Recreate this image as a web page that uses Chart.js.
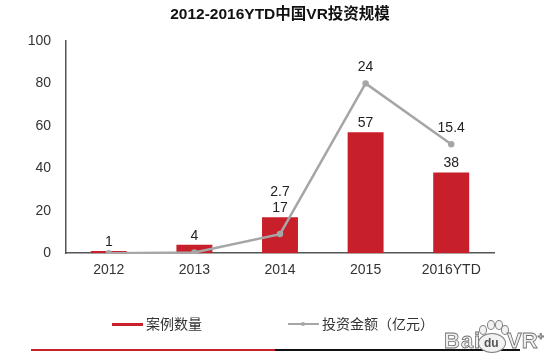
<!DOCTYPE html>
<html>
<head>
<meta charset="utf-8">
<script src="https://cdn.jsdelivr.net/npm/chart.js@4/dist/chart.umd.min.js"></script>
<style>
  html, body { margin: 0; padding: 0; background: #fff; }
  #wrap { position: relative; width: 550px; height: 355px; overflow: hidden;
    font-family: "Liberation Sans", "Noto Sans CJK SC", sans-serif; color: #333; }
  #wrap canvas { position: absolute; left: 0; top: 0; }
  .key { position: absolute; top: 315px; font-size: 14px; line-height: 18px; white-space: nowrap; }
  .swatch { position: absolute; height: 2px; top: 323px; }
  .rule { position: absolute; top: 349px; height: 2px; }
  .mark { position: absolute; top: 329px; font-size: 22px; line-height: 24px; font-weight: bold;
    color: #efefef; -webkit-text-stroke: 0.8px #707070; white-space: nowrap; }
  .mark sup { font-size: 11px; line-height: 0; }
  .toe { position: absolute; background: #f2f2f2; border: 1px solid #808080; border-radius: 50%; }
</style>
</head>
<body>
<div id="wrap">
  <canvas id="chart-0" width="550" height="355"></canvas>
  <div class="swatch" style="left:112px;width:31px;height:3px;background:#c8202a"></div>
  <div class="key" style="left:146px">案例数量</div>
  <div class="swatch" style="left:288px;width:31px;background:#a6a6a6"></div>
  <div class="swatch" style="left:301px;top:322px;width:4px;height:4px;border-radius:50%;background:#a6a6a6"></div>
  <div class="key" style="left:322px">投资金额（亿元）</div>
  <div class="rule" style="left:31px;width:244px;background:#c8202a"></div>
  <div class="rule" style="left:275px;width:245px;background:#111"></div>
  <div class="toe" style="left:478px;top:333px;width:26px;height:18px"></div>
  <div class="toe" style="left:479px;top:325px;width:6px;height:8px"></div>
  <div class="toe" style="left:487px;top:320px;width:6px;height:8px"></div>
  <div class="toe" style="left:495px;top:320px;width:6px;height:8px"></div>
  <div class="toe" style="left:501px;top:325px;width:6px;height:8px"></div>
  <div class="mark" style="left:444px;letter-spacing:1px">Bai</div>
  <div style="position:absolute;left:484px;top:336px;font-size:12px;line-height:14px;font-weight:bold;color:#555">du</div>
  <div class="mark" style="left:507px">VR<sup>+</sup></div>
</div>
<script>
const categories = ['2012', '2013', '2014', '2015', '2016YTD']
const caseCounts = [1, 4, 17, 57, 38]
const investAmounts = [0, 0.1, 2.7, 24, 15.4]
const investLabels = ['', '', '2.7', '24', '15.4']
const yTicks = [0, 20, 40, 60, 80, 100]

const RED = '#c8202a'
const GREY = '#a6a6a6'
const AXIS = '#555555'

// value labels: counts over the bars, amounts over the line (or over the count label if the point sits lower)
const valueLabels = {
  id: 'valueLabels',
  afterDatasetsDraw(chart) {
    const ctx = chart.ctx
    const bars = chart.getDatasetMeta(0).data
    const points = chart.getDatasetMeta(1).data
    ctx.save()
    ctx.font = '14px "Liberation Sans"'
    ctx.fillStyle = '#222'
    ctx.textAlign = 'center'
    ctx.textBaseline = 'middle'
    categories.forEach((c, i) => {
      const barLabelY = bars[i].y - 9
      ctx.fillText(String(caseCounts[i]), bars[i].x, barLabelY)
      if (investLabels[i]) {
        ctx.fillText(investLabels[i], points[i].x, Math.min(points[i].y, barLabelY) - 16)
      }
    })
    ctx.restore()
  }
}

new Chart(document.getElementById('chart-0'), {
  data: {
    labels: categories,
    datasets: [
      {
        type: 'bar',
        label: '案例数量',
        data: caseCounts,
        backgroundColor: RED,
        categoryPercentage: 1,
        barPercentage: 0.42,
        yAxisID: 'y',
        order: 2
      },
      {
        type: 'line',
        label: '投资金额（亿元）',
        data: investAmounts,
        borderColor: GREY,
        backgroundColor: GREY,
        borderWidth: 2.5,
        pointRadius: 2,
        tension: 0,
        yAxisID: 'y2',
        order: 1
      }
    ]
  },
  options: {
    responsive: false,
    animation: false,
    layout: { padding: { left: 0, right: 56, top: 5, bottom: 67 } },
    plugins: {
      legend: { display: false },
      tooltip: { enabled: false },
      title: {
        display: true,
        text: '2012-2016YTD中国VR投资规模',
        fullSize: false,
        color: '#111',
        font: { family: '"Liberation Sans", "Noto Sans CJK SC"', size: 15.5, weight: 'bold' },
        padding: { top: 0, bottom: 17.4 }
      }
    },
    scales: {
      x: {
        grid: { display: false, drawTicks: false },
        border: { color: AXIS, width: 1.5 },
        ticks: { color: '#333', font: { family: '"Liberation Sans"', size: 14 }, padding: 9, maxRotation: 0 }
      },
      y: {
        min: 0,
        max: 100,
        afterFit(s) { s.width = 66 },
        afterBuildTicks(s) { s.ticks = yTicks.map(v => ({ value: v })) },
        grid: { display: false, drawTicks: false },
        border: { color: AXIS, width: 1.5 },
        ticks: { color: '#333', font: { family: '"Liberation Sans"', size: 14 }, padding: 15 }
      },
      // amounts share the plot on a hidden 0-30 scale
      y2: { min: 0, max: 30, display: false }
    }
  },
  plugins: [valueLabels]
})
</script>
</body>
</html>
